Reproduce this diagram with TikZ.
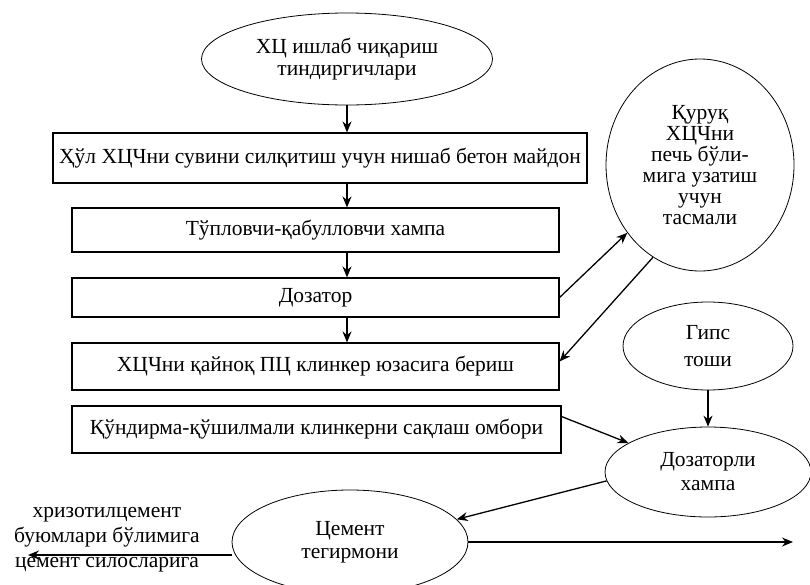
\documentclass[tikz,border=0pt]{standalone}
\usepackage{fontspec}
\setmainfont{Liberation Serif}
\usetikzlibrary{arrows.meta,shapes.geometric}

\begin{document}
\begin{tikzpicture}[x=1pt,y=-1pt,>={Stealth[length=11pt,width=9pt]},
  font=\fontsize{21.5}{24}\selectfont,
  box/.style={draw,line width=1.1pt,inner sep=0pt},
  oval/.style={draw,ellipse,line width=0.8pt,inner sep=0pt,align=center},
  flow/.style={->,line width=1.3pt}]
  \useasboundingbox (0,0) rectangle (810,584);

  \node[oval, minimum width=291pt, minimum height=92pt, font=\fontsize{21.5}{22}\selectfont] (tind) at (347,59) {ХЦ ишлаб чиқариш\\тиндиргичлари};
  \node[box, minimum width=534pt, minimum height=50pt] (mayd) at (320,158) {Ҳўл ХЦЧни сувини силқитиш учун нишаб бетон майдон};
  \node[box, minimum width=487pt, minimum height=44pt] (hamp) at (315.5,230) {Тўпловчи-қабулловчи хампа};
  \node[box, minimum width=487pt, minimum height=39pt] (doz) at (315.5,297.5) {Дозатор};
  \node[box, minimum width=487pt, minimum height=47pt] (bersh) at (315.5,366.5) {ХЦЧни қайноқ ПЦ клинкер юзасига бериш};
  \node[box, minimum width=489pt, minimum height=47pt] (ombor) at (316.5,429.5) {Қўндирма-қўшилмали клинкерни сақлаш омбори};

  \node[oval, minimum width=188pt, minimum height=212pt, font=\fontsize{21.5}{21}\selectfont] (kuruk) at (700,165) {Қуруқ\\ХЦЧни\\печь бўли-\\мига узатиш\\учун\\тасмали};
  \node[oval, minimum width=170pt, minimum height=88pt, font=\fontsize{21.5}{27}\selectfont] (gips) at (708,346) {Гипс\\тоши};
  \node[oval, minimum width=206pt, minimum height=90pt] (dozh) at (708,472) {Дозаторли\\хампа};
  \node[oval, minimum width=236pt, minimum height=104pt, font=\fontsize{21.5}{23}\selectfont] (tegir) at (350,542) {Цемент\\тегирмони};
  \node[align=center, inner sep=0pt, font=\fontsize{21.5}{25}\selectfont] (silos) at (107,540) {хризотилцемент\\буюмлари бўлимига\\цемент силосларига};
  \coordinate (chap) at (28,555);
  \coordinate (ong) at (793,542);

  \path[flow]
    (tind.south) edge (tind.south |- mayd.north)
    (mayd.south -| tind.south) edge (hamp.north -| tind.south)
    (hamp.south -| tind.south) edge (doz.north -| tind.south)
    (doz.south -| tind.south) edge (bersh.north -| tind.south)
    (doz.east) edge (kuruk.223)
    (kuruk.243) edge ([yshift=5pt]bersh.east)
    ([yshift=13pt]ombor.east) edge (dozh.160)
    (gips.south) edge (dozh.north)
    (dozh.185) edge (tegir.12)
    ([yshift=-13pt]tegir.west) edge (chap)
    (tegir.east) edge (ong)
  ;
\end{tikzpicture}
\end{document}
